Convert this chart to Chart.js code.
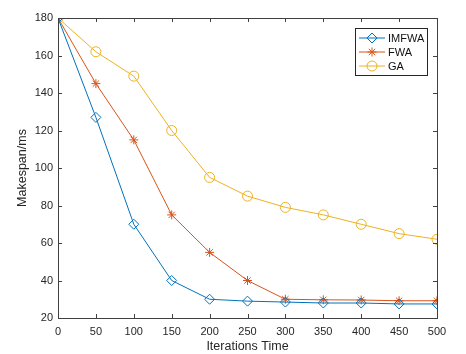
<!DOCTYPE html>
<html>
<head>
<meta charset="utf-8">
<script src="https://cdn.jsdelivr.net/npm/chart.js@4.4.1/dist/chart.umd.min.js"></script>
<style>
  html, body { margin: 0; padding: 0; background: #fff; }
  #wrap { width: 466px; height: 354px; }
</style>
</head>
<body>
<div id="wrap"><canvas id="makespanChart" width="466" height="354"></canvas></div>
<script>
// iterations on the x axis
const iterations = [0, 50, 100, 150, 200, 250, 300, 350, 400, 450, 500];
// makespan values
const imfwa = [180, 127, 70, 40, 30, 29, 28.5, 28, 28, 27.5, 27.5];
const fwa = [180, 145, 115, 75, 55, 40, 30, 29.7, 29.6, 29.2, 29.2];
const ga = [180, 162, 149, 120, 95, 85, 79, 75, 70, 65, 62];
const seriesNames = ['IMFWA', 'FWA', 'GA'];

const axisColor = '#404040';
const tickFont = { family: 'Liberation Sans, Arial, sans-serif', size: 11 };

/** draws the matlab style box, inward ticks and the legend */
const matlabBox = {
  id: 'matlabBox',
  afterDraw(chart) {
    const { ctx, chartArea: a, scales } = chart;
    ctx.save();
    ctx.strokeStyle = axisColor;
    ctx.lineWidth = 1;
    ctx.strokeRect(a.left + 0.5, a.top + 0.5, a.right - a.left, a.bottom - a.top);
    const tl = 4;
    ctx.beginPath();
    scales.x.ticks.forEach(t => {
      const px = Math.round(scales.x.getPixelForValue(t.value)) + 0.5;
      ctx.moveTo(px, a.bottom); ctx.lineTo(px, a.bottom - tl);
      ctx.moveTo(px, a.top); ctx.lineTo(px, a.top + tl);
    });
    scales.y.ticks.forEach(t => {
      const py = Math.round(scales.y.getPixelForValue(t.value)) + 0.5;
      ctx.moveTo(a.left, py); ctx.lineTo(a.left + tl, py);
      ctx.moveTo(a.right, py); ctx.lineTo(a.right - tl, py);
    });
    ctx.stroke();

    // legend box, upper right
    const lx = 355, ly = 28, lw = 72, lh = 47;
    ctx.fillStyle = '#fff';
    ctx.fillRect(lx, ly, lw, lh);
    ctx.strokeStyle = '#262626';
    ctx.strokeRect(lx + 0.5, ly + 0.5, lw, lh);
    ctx.font = '11px Liberation Sans, Arial, sans-serif';
    ctx.textBaseline = 'middle';
    chart.data.datasets.forEach((ds, i) => {
      const y = ly + 10 + i * 14;
      ctx.strokeStyle = ds.borderColor;
      ctx.lineWidth = 1;
      ctx.beginPath();
      ctx.moveTo(lx + 4, y); ctx.lineTo(lx + 30, y);
      ctx.stroke();
      ctx.fillStyle = 'rgba(0,0,0,0)';
      Chart.helpers.drawPoint(ctx, {
        pointStyle: ds.pointStyle, radius: ds.pointRadius, rotation: 0, borderWidth: 1
      }, lx + 17, y);
      ctx.fillStyle = '#111';
      ctx.fillText(ds.label, lx + 33, y + 1);
    });
    ctx.restore();
  }
};

document.addEventListener("DOMContentLoaded", function () {
  const ctx = document.getElementById('makespanChart').getContext('2d');
  const mk = (label, data, color, style, r) => ({
    label: label,
    data: data,
    borderColor: color,
    backgroundColor: 'rgba(0,0,0,0)',
    pointBorderColor: color,
    pointBackgroundColor: 'rgba(0,0,0,0)',
    borderWidth: 1,
    pointBorderWidth: 1,
    pointStyle: style,
    pointRadius: r,
    tension: 0,
    fill: false
  });
  new Chart(ctx, {
    type: 'line',
    data: {
      labels: iterations,
      datasets: [
        mk(seriesNames[0], imfwa, '#0072BD', 'rectRot', 5),
        mk(seriesNames[1], fwa, '#D95319', 'star', 4.5),
        mk(seriesNames[2], ga, '#EDB120', 'circle', 5)
      ]
    },
    plugins: [matlabBox],
    options: {
      responsive: false,
      animation: false,
      devicePixelRatio: 1,
      layout: { padding: { top: 18, right: 29, left: 15, bottom: 0 } },
      plugins: {
        legend: { display: false },
        tooltip: { enabled: false }
      },
      scales: {
        x: {
          type: 'linear',
          min: 0, max: 500,
          afterFit(scale) { scale.height = 36; },
          ticks: { stepSize: 50, color: '#262626', font: tickFont, maxRotation: 0, padding: 7 },
          grid: { display: false, drawTicks: false },
          border: { display: false },
          title: { display: true, text: 'Iterations Time', color: '#262626',
                   font: { family: 'Liberation Sans, Arial, sans-serif', size: 12.5 }, padding: { top: 3, bottom: 0 } }
        },
        y: {
          min: 20, max: 180,
          afterFit(scale) { scale.width = 43; },
          ticks: { stepSize: 20, color: '#262626', font: tickFont, padding: 5 },
          grid: { display: false, drawTicks: false },
          border: { display: false },
          title: { display: true, text: 'Makespan/ms', color: '#262626',
                   font: { family: 'Liberation Sans, Arial, sans-serif', size: 12.5 }, padding: { top: 0, bottom: 0 } }
        }
      }
    }
  });
});
</script>
</body>
</html>
